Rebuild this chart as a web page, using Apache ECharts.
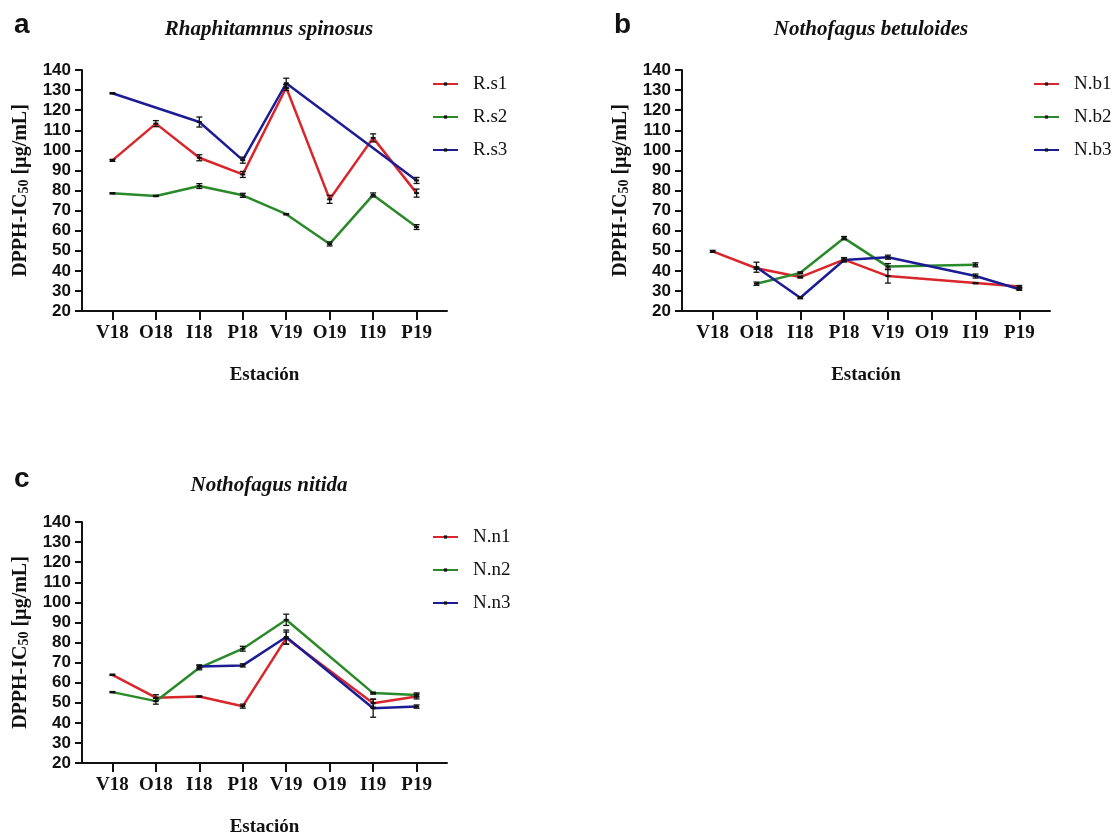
<!DOCTYPE html>
<html>
<head>
<meta charset="utf-8">
<script src="https://cdn.jsdelivr.net/npm/echarts@6/dist/echarts.min.js"></script>
<style>
html,body{margin:0;padding:0;background:#fff;}
#chart{width:1113px;height:834px;}
</style>
</head>
<body>
<div id="chart"></div>
<script>
// ---- data ----
const stations = ['V18','O18','I18','P18','V19','O19','I19','P19'];
const yTicks = [20,30,40,50,60,70,80,90,100,110,120,130,140];

const namesA = ['R.s1','R.s2','R.s3'];
const rs1 = [95.0, 113.3, 96.3, 88.0, 131.3, 75.6, 106.2, 78.7];
const rs2 = [78.6, 77.3, 82.2, 77.6, 68.2, 53.4, 77.8, 61.8];
const rs3 = [128.4, null, 114.1, 95.1, 133.4, null, null, 85.0];
const rs1Err = [0.5, 1.5, 1.5, 1.5, 1.5, 2.0, 2.0, 2.0];
const rs2Err = [0.3, 0.3, 1.2, 1.0, 0.3, 1.0, 1.0, 1.2];
const rs3Err = [0.3, null, 2.5, 1.5, 2.5, null, null, 1.5];

const namesB = ['N.b1','N.b2','N.b3'];
const nb1 = [49.7, 41.3, 36.9, 45.6, 37.4, null, 33.9, 32.2];
const nb2 = [null, 33.6, 39.0, 56.3, 42.1, null, 43.0, null];
const nb3 = [null, 41.8, 26.6, 45.4, 46.8, null, 37.4, 30.8];
const nb1Err = [0.5, 0.5, 0.5, 1.0, 3.5, null, 0.3, 0.5];
const nb2Err = [null, 0.8, 0.5, 0.8, 1.5, null, 1.0, null];
const nb3Err = [null, 2.5, 0.5, 1.0, 1.0, null, 1.0, 0.5];

const namesC = ['N.n1','N.n2','N.n3'];
const nn1 = [63.9, 52.5, 53.1, 48.3, 82.2, null, 49.8, 53.1];
const nn2 = [55.3, 50.8, 67.4, 76.9, 91.3, null, 54.8, 53.9];
const nn3 = [null, null, 68.1, 68.6, 82.7, null, 47.3, 48.1];
const nn1Err = [0.3, 1.5, 0.3, 1.0, 3.0, null, 2.0, 1.2];
const nn2Err = [0.3, 1.5, 1.0, 1.2, 2.8, null, 0.5, 1.0];
const nn3Err = [null, null, 0.8, 0.8, 3.5, null, 4.5, 0.8];

const titles = ['Rhaphitamnus spinosus','Nothofagus betuloides','Nothofagus nitida'];
const panelLetters = ['a','b','c'];
const xName = 'Estación';

// ---- styles ----
const colors = ['#d8262b', '#2a8a2a', '#1c1c96'];
const SANS = 'Liberation Sans, Arial, sans-serif';
const SERIF = 'Liberation Serif, Times New Roman, serif';

const grids = [
  {left: 82, top: 70, width: 365, height: 241, outerBoundsMode: 'none', containLabel: false},
  {left: 682, top: 70, width: 368, height: 241, outerBoundsMode: 'none', containLabel: false},
  {left: 82, top: 522, width: 365, height: 241, outerBoundsMode: 'none', containLabel: false}
];
const panels = [
  {names: namesA, vals: [rs1, rs2, rs3], errs: [rs1Err, rs2Err, rs3Err]},
  {names: namesB, vals: [nb1, nb2, nb3], errs: [nb1Err, nb2Err, nb3Err]},
  {names: namesC, vals: [nn1, nn2, nn3], errs: [nn1Err, nn2Err, nn3Err]}
];

const idx = stations.map((s, i) => i);

const xAxes = grids.map((g, k) => ({
  type: 'value', gridIndex: k, min: -0.7, max: 7.7,
  name: xName, nameLocation: 'middle', nameGap: 55,
  nameTextStyle: {fontFamily: SERIF, fontWeight: 'bold', fontSize: 19, color: '#111'},
  axisLine: {show: true, onZero: false, lineStyle: {color: '#111', width: 2}},
  axisTick: {show: true, customValues: idx, length: 9, lineStyle: {color: '#111', width: 2}},
  axisLabel: {show: true, customValues: idx, margin: 13, formatter: v => stations[Math.round(v)] || '',
    fontFamily: SERIF, fontWeight: 'bold', fontSize: 19, color: '#111'},
  splitLine: {show: false}
}));

const yAxes = grids.map((g, k) => ({
  type: 'value', gridIndex: k, min: yTicks[0], max: yTicks[yTicks.length - 1], interval: 10,
  name: '{a|DPPH-IC}{s|50}{a| [µg/mL]}', nameLocation: 'middle', nameRotate: 90, nameGap: 51,
  nameTextStyle: {rich: {
    a: {fontFamily: SERIF, fontWeight: 'bold', fontSize: 20, color: '#111', lineHeight: 21},
    s: {fontFamily: SERIF, fontWeight: 'bold', fontSize: 14, color: '#111', lineHeight: 14, verticalAlign: 'bottom'}
  }},
  axisLine: {show: true, onZero: false, lineStyle: {color: '#111', width: 2}},
  axisTick: {show: true, length: 7, lineStyle: {color: '#111', width: 2}},
  axisLabel: {margin: 11, fontFamily: SANS, fontWeight: 'bold', fontSize: 17, color: '#111'},
  splitLine: {show: false}
}));

const series = [];
panels.forEach((p, k) => {
  p.names.forEach((nm, j) => {
    series.push({
      type: 'line', name: nm, xAxisIndex: k, yAxisIndex: k,
      data: p.vals[j].map((v, i) => v == null ? null : [i, v]).filter(d => d),
      color: colors[j],
      lineStyle: {color: colors[j], width: 2.5},
      itemStyle: {color: '#111'},
      symbol: 'rect', symbolSize: [5, 2], showSymbol: true,
      z: 2
    });
  });
  const errData = [];
  p.names.forEach((nm, j) => {
    p.vals[j].forEach((v, i) => {
      const e = p.errs[j][i];
      if (v != null && e != null) errData.push([i, v, e]);
    });
  });
  series.push({
    type: 'custom', name: 'err' + k, xAxisIndex: k, yAxisIndex: k,
    encode: {x: 0, y: 1}, z: 5, silent: true,
    data: errData,
    renderItem: function (params, api) {
      const x = api.value(0), y = api.value(1), e = api.value(2);
      const t = api.coord([x, y + e]);
      const b = api.coord([x, y - e]);
      const hw = 3;
      const st = {stroke: '#111', lineWidth: 1.3};
      return {type: 'group', children: [
        {type: 'line', shape: {x1: t[0], y1: t[1], x2: b[0], y2: b[1]}, style: st},
        {type: 'line', shape: {x1: t[0] - hw, y1: t[1], x2: t[0] + hw, y2: t[1]}, style: st},
        {type: 'line', shape: {x1: b[0] - hw, y1: b[1], x2: b[0] + hw, y2: b[1]}, style: st}
      ]};
    }
  });
});

const legendPos = [
  {left: 427, top: 69},
  {left: 1028, top: 69},
  {left: 427, top: 522}
];
const legends = panels.map((p, k) => ({
  data: p.names, orient: 'vertical', left: legendPos[k].left, top: legendPos[k].top,
  itemWidth: 25, itemHeight: 4, itemGap: 13, selectedMode: false,
  textStyle: {fontFamily: SERIF, fontSize: 19, color: '#111', lineHeight: 20, padding: [0, 0, 0, 10]}
}));

const titleCenters = [264, 866, 264];
const titleTops = [14, 14, 470];
const letterPos = [{left: 9, top: 6}, {left: 609, top: 6}, {left: 9, top: 460}];
const titleArr = [];
panels.forEach((p, k) => {
  titleArr.push({text: panelLetters[k], left: letterPos[k].left, top: letterPos[k].top,
    textStyle: {fontFamily: SANS, fontWeight: 'bold', fontSize: 28, color: '#111'}});
  titleArr.push({text: titles[k], left: titleCenters[k], textAlign: 'center', top: titleTops[k],
    textStyle: {fontFamily: SERIF, fontWeight: 'bold', fontStyle: 'italic', fontSize: 21, color: '#111'}});
});

const chart = echarts.init(document.getElementById('chart'), null, {renderer: 'canvas'});
chart.setOption({
  animation: false,
  backgroundColor: '#fff',
  title: titleArr,
  grid: grids,
  xAxis: xAxes,
  yAxis: yAxes,
  legend: legends,
  series: series
});
</script>
</body>
</html>
